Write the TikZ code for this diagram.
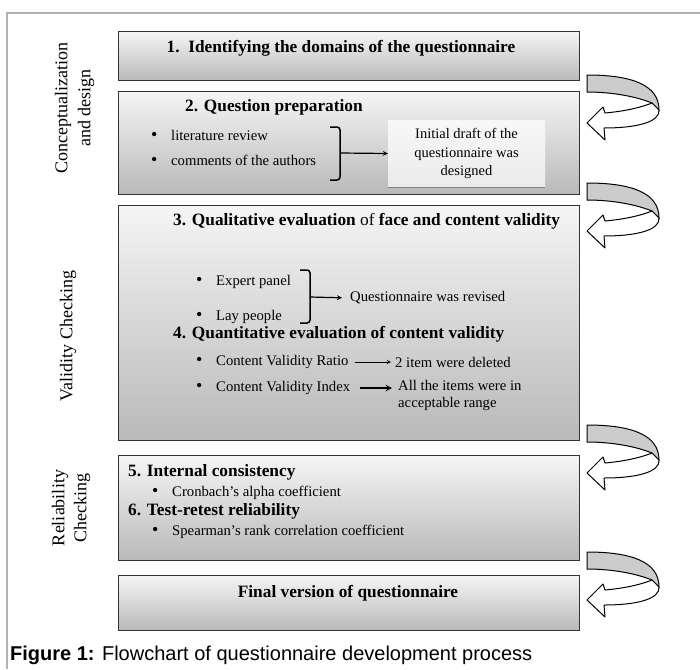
\documentclass[tikz,border=0pt]{standalone}
\usepackage{fontspec}
\setmainfont{Liberation Serif}
\newfontfamily\capfont{Liberation Sans}
\usetikzlibrary{positioning}

\tikzset{
  stagebox/.style={draw=black!80, line width=1.2pt, top color=gray!8, bottom color=gray!55, anchor=north west, inner sep=0pt},
  head/.style={anchor=west, inner sep=0pt, font=\fontsize{17.3}{20}\selectfont\bfseries},
  item/.style={anchor=west, inner sep=0pt, font=\fontsize{14.7}{17}\selectfont},
  phase/.style={rotate=90, inner sep=0pt, font=\fontsize{18}{21}\selectfont},
  bracket/.style={line width=1.5pt, rounded corners=3pt},
}
\newcommand{\bul}{\makebox[20pt][l]{\fontsize{18}{18}\selectfont\textbullet}}

\begin{document}
\begin{tikzpicture}[x=1pt, y=-1pt]
\useasboundingbox (0,0) rectangle (700,669);
% frame
\draw[gray!60, line width=1.2pt] (700,13) -- (7,13) -- (7,669);

% stage boxes
\node[stagebox, minimum width=461pt, minimum height=49pt] (s1) at (118,31) {};
\node[stagebox, minimum width=461pt, minimum height=103pt] (s2) at (118,91) {};
\node[stagebox, minimum width=461pt, minimum height=235pt] (s3) at (118,205) {};
\node[stagebox, minimum width=461pt, minimum height=105pt] (s4) at (118,455) {};
\node[stagebox, minimum width=461pt, minimum height=55pt] (s5) at (118,575) {};

% turning arrows between the boxes
\foreach \ty in {75,183,425,552}{
  \begin{scope}[shift={(587,\ty)}]
    \filldraw[fill=gray!40, line width=1pt] (0,0) .. controls (45,0) and (72,10) .. (72,35) -- (65,28) .. controls (45,20) and (20,17) .. (0,17) -- cycle;
    \filldraw[fill=white, line width=1pt, line join=round] (72,35) .. controls (73,47) and (50,53) .. (17,53) -- (18,65) -- (0,48) -- (16,32) -- (18,38) .. controls (40,36) and (55,32) .. (65,28) -- cycle;
  \end{scope}
}

% phase labels
\node[phase] (ph1a) at (63,108) {Conceptualization};
\node[phase] (ph1b) at (86,108) {and design};
\node[phase] (ph2) at (68,336) {Validity Checking};
\node[phase] (ph3a) at (60,508) {Reliability};
\node[phase] (ph3b) at (82,508) {Checking};

% box 1
\node[head, anchor=center] (h1) at (341,48) {1.\ \ Identifying the domains of the questionnaire};

% box 2
\node[head] (h2) at (185,107) {2. Question preparation};
\node[item] (lit) at (151,135) {\bul literature review};
\node[item] (com) at (151,160) {\bul comments of the authors};
\draw[bracket] (330,127) -| (340,180) -- (330,180);
\coordinate (b2) at (340,153);
\node[top color=gray!6, bottom color=gray!16, minimum width=157pt, minimum height=67pt, inner sep=0pt,
      align=center, font=\fontsize{14.5}{18.5}\selectfont] (draft) at (466.5,153.5)
      {Initial draft of the\\questionnaire was\\designed};
\draw[gray, line width=1.2pt] (draft.south west) -- (draft.south east);
\draw[-stealth, line width=1.2pt] (b2) -- (draft.west);

% box 3
\node[head] (h3) at (173,221) {3. Qualitative evaluation {\mdseries of} face and content validity};
\node[item] (exp) at (196,282) {\bul Expert panel};
\node[item] (lay) at (196,317) {\bul Lay people};
\draw[bracket] (300,270) -| (310,323) -- (300,323);
\coordinate (b3) at (310,297);
\node[item] (rev) at (350,298) {Questionnaire was revised};
\draw[-stealth, line width=1.2pt, shorten >=8pt] (b3) -- (rev.west);
\node[head] (h4) at (173,334) {4. Quantitative evaluation of content validity};
\node[item] (cvr) at (196,362) {\bul Content Validity Ratio};
\node[item] (del) at (395,362) {2 item were deleted};
\draw[-stealth, line width=0.9pt, shorten <=6pt, shorten >=4pt] (cvr.east) -- (del.west);
\node[item] (cvi) at (196,388) {\bul Content Validity Index};
\node[item, anchor=north west, align=left] (acc) at (398,380) {All the items were in\\acceptable range};
\draw[-stealth, line width=1.8pt, shorten <=10pt, shorten >=6pt] (cvi.east) -- (cvi.east -| acc.west);

% box 4
\node[head] (h5) at (128,472) {5. Internal consistency};
\node[item] (cron) at (152,493) {\bul Cronbach's alpha coefficient};
\node[head] (h6) at (128,511) {6. Test-retest reliability};
\node[item] (spear) at (152,532) {\bul Spearman’s rank correlation coefficient};

% box 5
\node[head, anchor=center] (h7) at (348,593) {Final version of questionnaire};

% caption
\node[anchor=west, inner sep=0pt, font=\capfont\fontsize{20}{24}\selectfont] (cap) at (10,655)
  {\textbf{Figure 1:} Flowchart of questionnaire development process};
\end{tikzpicture}
\end{document}
